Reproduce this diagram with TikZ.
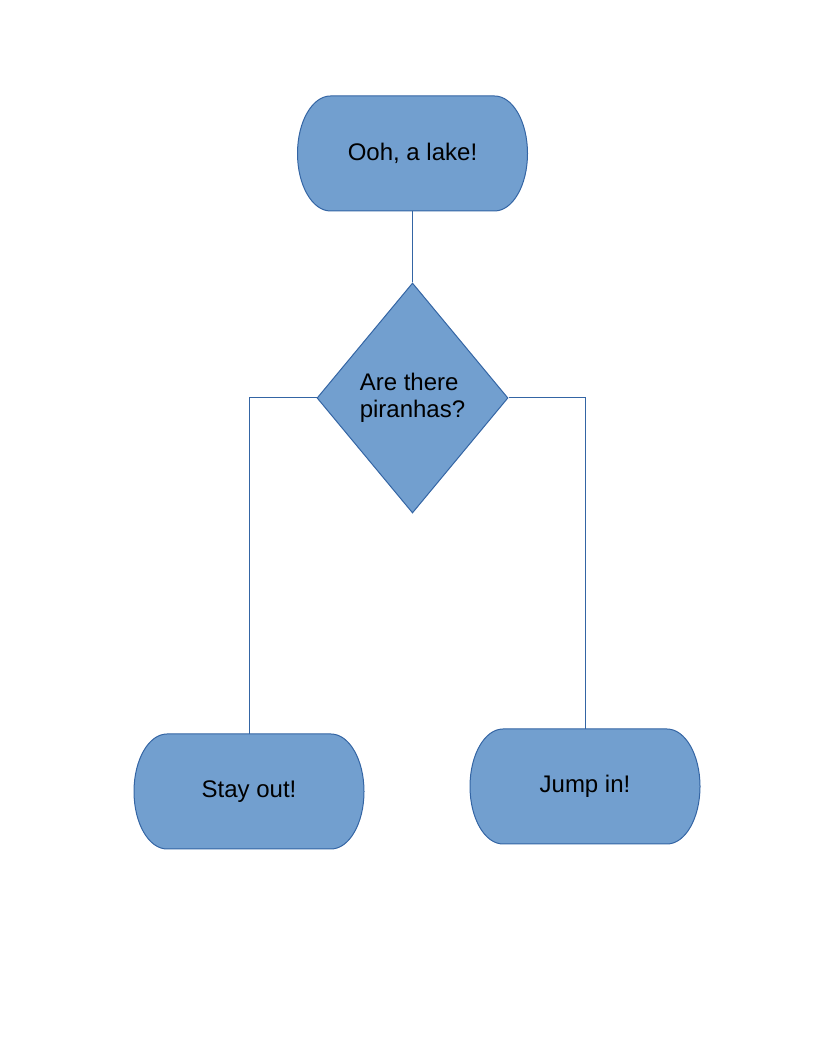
\documentclass[tikz,border=0pt]{standalone}
\usepackage{fontspec}
\setmainfont{Liberation Sans}
\usepackage{xcolor}
\usetikzlibrary{shapes.geometric,backgrounds}

\definecolor{lakefill}{HTML}{729FCF}
\definecolor{lakeline}{HTML}{3465A4}

\tikzset{
	terminal/.style={minimum width=230pt, minimum height=115pt, inner sep=0pt, outer sep=0pt},
	terminalshape/.style={draw=lakeline, fill=lakefill, line width=1pt},
	decision/.style={diamond, draw=lakeline, fill=lakefill, line width=1pt, minimum width=191pt, minimum height=230pt, inner sep=0pt, align=left},
	link/.style={draw=lakeline, line width=1pt}
}

\begin{document}
\begin{tikzpicture}[x=1pt, y=1pt, font=\fontsize{24}{27.6}\selectfont]
			\useasboundingbox (0,0) rectangle (816,1056);

			\def\rx{33}
			\def\ry{57.5}

			% Make nodes
			\node[terminal] (lake) at (412.5,902.5) {Ooh, a lake!};
			\node[decision] (fish) at (412.5,658) {Are there\\piranhas?};
			\node[terminal] (out) at (249,264.5) {Stay out!};
			\node[terminal] (jump) at (585,269.5) {Jump in!};

			% Terminal outlines behind the text
			\begin{scope}[on background layer]
				\foreach \n in {lake, out, jump} {
					\path[terminalshape] ([xshift=\rx]\n.north west) -- ([xshift=-\rx]\n.north east)
						arc[start angle=90, end angle=-90, x radius=\rx, y radius=\ry]
						-- ([xshift=\rx]\n.south west)
						arc[start angle=270, end angle=90, x radius=\rx, y radius=\ry] -- cycle;
				}
			\end{scope}

			% Make links
			\draw[link] (lake.south) -- (fish.north);
			\draw[link] (fish.west) -| (out.north);
			\draw[link] (fish.east) -| (jump.north);
		\end{tikzpicture}
\end{document}
